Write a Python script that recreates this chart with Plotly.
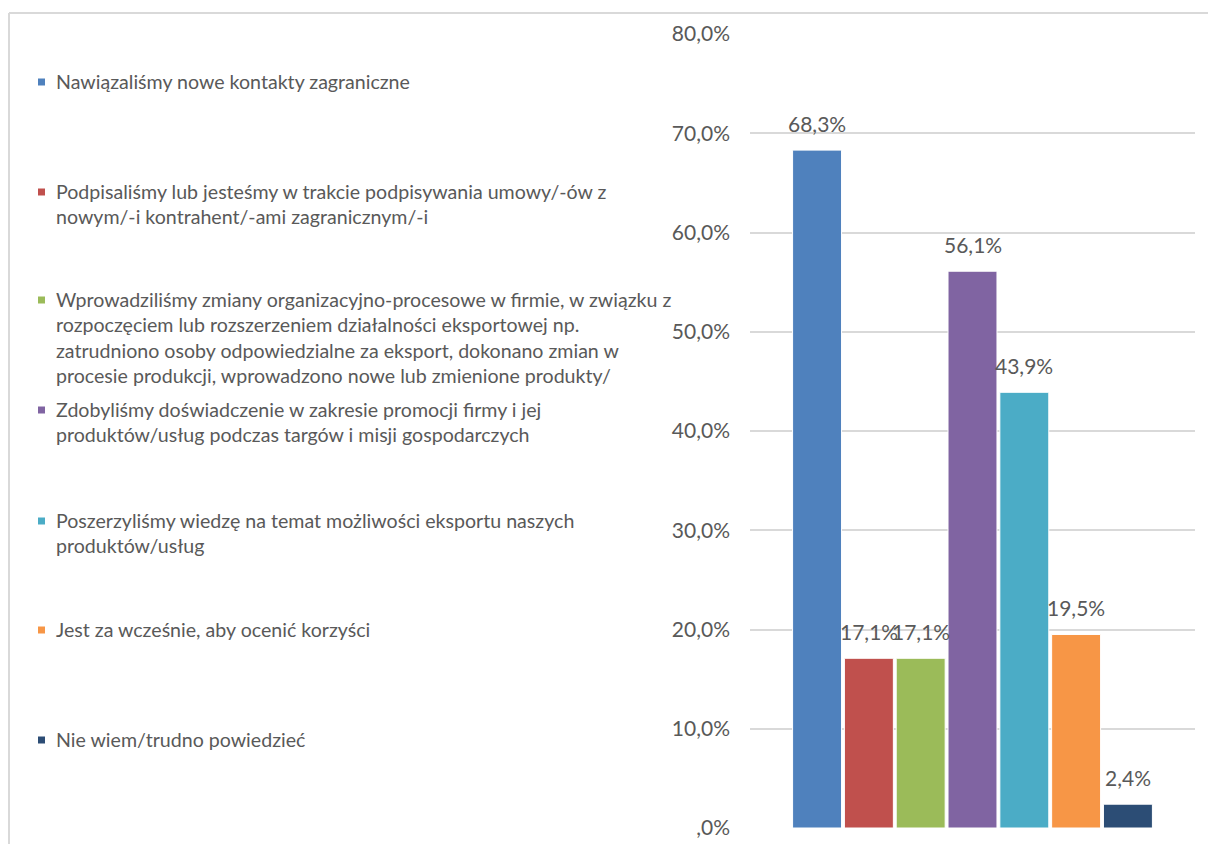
import plotly.graph_objects as go

# Survey answers (series) and their shares in percent
answers = [
    "Nawiązaliśmy nowe kontakty zagraniczne",
    "Podpisaliśmy lub jesteśmy w trakcie podpisywania umowy/-ów z<br>nowym/-i kontrahent/-ami zagranicznym/-i",
    "Wprowadziliśmy zmiany organizacyjno-procesowe w firmie, w związku z<br>"
    "rozpoczęciem lub rozszerzeniem działalności eksportowej np.<br>"
    "zatrudniono osoby odpowiedzialne za eksport, dokonano zmian w<br>"
    "procesie produkcji, wprowadzono nowe lub zmienione produkty/",
    "Zdobyliśmy doświadczenie w zakresie promocji firmy i jej<br>produktów/usług podczas targów i misji gospodarczych",
    "Poszerzyliśmy wiedzę na temat możliwości eksportu naszych<br>produktów/usług",
    "Jest za wcześnie, aby ocenić korzyści",
    "Nie wiem/trudno powiedzieć",
]
shares = [68.3, 17.1, 17.1, 56.1, 43.9, 19.5, 2.4]
colors = ["#4F81BD", "#C0504D", "#9BBB59", "#8064A2", "#4BACC6", "#F79646", "#2C4D75"]

tick_vals = [0, 10, 20, 30, 40, 50, 60, 70, 80]
tick_text = [",0%", "10,0%", "20,0%", "30,0%", "40,0%", "50,0%", "60,0%", "70,0%", "80,0%"]

# Pixel row (centre of the first text line) for each legend entry
legend_rows = [82, 192, 300, 410, 521, 630, 740]

W, H = 1208, 844
L, R, T, B = 750, 13, 34, 16
PW, PH = W - L - R, H - T - B
TEXT = "#595959"
FONT = "Lato"
LEGEND_SIZE = 19.6
NUM_SIZE = 21
BARGAP = 0.185
GROUPGAP = 0.055


def px_x(px):
    return (px - L) / PW


def px_y(py):
    return (H - B - py) / PH


def pct(v):
    return f"{v:.1f}%".replace(".", ",")


fig = go.Figure()
for name, v, c in zip(answers, shares, colors):
    fig.add_trace(go.Bar(
        x=[0], y=[v], name=name.replace("<br>", " "),
        marker=dict(color=c, line=dict(color="white", width=1)),
        showlegend=False, hoverinfo="y",
    ))

annotations = []
shapes = []

# value labels above each bar of the group
n = len(shares)
slot = (1 - BARGAP) / n
for i, v in enumerate(shares):
    cx = -(1 - BARGAP) / 2 + (i + 0.5) * slot
    annotations.append(dict(
        x=cx, y=v, xref="x", yref="y", text=pct(v), showarrow=False,
        xanchor="center", yanchor="middle", yshift=27,
        font=dict(family=FONT, size=NUM_SIZE, color=TEXT),
    ))

# legend drawn at the left of the chart
for text, row, c in zip(answers, legend_rows, colors):
    annotations.append(dict(
        x=px_x(54), y=px_y(row - 14), xref="paper", yref="paper",
        text=text, showarrow=False, align="left",
        xanchor="left", yanchor="top",
        font=dict(family=FONT, size=LEGEND_SIZE, color=TEXT),
    ))
    shapes.append(dict(
        type="rect", xref="paper", yref="paper",
        x0=px_x(38), x1=px_x(45), y0=px_y(row - 3.5), y1=px_y(row + 3.5),
        fillcolor=c, line=dict(width=0),
    ))

# chart frame
frame = "#D9D9D9"
shapes.append(dict(type="line", xref="paper", yref="paper",
                   x0=px_x(9), x1=px_x(W + 5), y0=px_y(13), y1=px_y(13),
                   line=dict(color=frame, width=2)))
shapes.append(dict(type="line", xref="paper", yref="paper",
                   x0=px_x(9), x1=px_x(9), y0=px_y(13), y1=px_y(H + 5),
                   line=dict(color=frame, width=2)))

fig.update_layout(
    width=W, height=H,
    margin=dict(l=L, r=R, t=T, b=B, pad=0, autoexpand=False),
    paper_bgcolor="white", plot_bgcolor="white",
    barmode="group", bargap=BARGAP, bargroupgap=GROUPGAP,
    font=dict(family=FONT, color=TEXT),
    showlegend=False,
    annotations=annotations, shapes=shapes,
    xaxis=dict(range=[-0.5, 0.5], showgrid=False, zeroline=False,
               showticklabels=False, showline=False, fixedrange=True,
               automargin=False),
    yaxis=dict(range=[0, 80], tickvals=tick_vals, ticktext=tick_text,
               showgrid=True, gridcolor="#D9D9D9", gridwidth=2,
               zeroline=False, showline=False, ticks="",
               ticklabelstandoff=19, automargin=False,
               tickfont=dict(family=FONT, size=NUM_SIZE, color=TEXT)),
)

fig.write_html("out.html")
